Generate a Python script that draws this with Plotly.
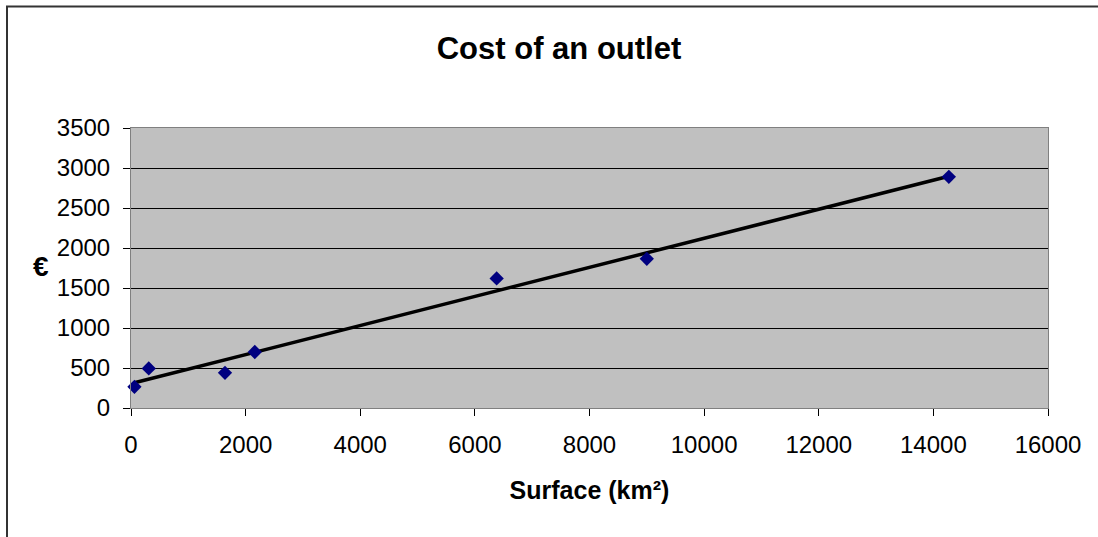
import numpy as np
import plotly.graph_objects as go

surface_km2 = [60, 310, 1640, 2160, 6380, 9000, 14270]
cost_eur = [265, 495, 440, 700, 1620, 1865, 2890]

x_ticks = [0, 2000, 4000, 6000, 8000, 10000, 12000, 14000, 16000]
y_ticks = [0, 500, 1000, 1500, 2000, 2500, 3000, 3500]

title_text = "Cost of an outlet"
x_title = "Surface (km²)"
y_title = "€"

# linear trendline (least squares) over the data range
slope, intercept = np.polyfit(surface_km2, cost_eur, 1)
trend_x = [min(surface_km2), max(surface_km2)]
trend_y = [slope * v + intercept for v in trend_x]

W, H = 1098, 537
L, R, T, B = 131, 50, 128, 129
pw, ph = W - L - R, H - T - B

fig = go.Figure()
fig.add_trace(go.Scatter(
    x=trend_x, y=trend_y, mode="lines",
    line=dict(color="black", width=3.5),
    showlegend=False,
))
fig.add_trace(go.Scatter(
    x=surface_km2, y=cost_eur, mode="markers",
    marker=dict(symbol="diamond", size=11, color="#000080",
                line=dict(width=0)),
    showlegend=False, cliponaxis=False,
))

font_family = "Liberation Sans, Arial, sans-serif"

fig.update_layout(
    width=W, height=H,
    margin=dict(l=L, r=R, t=T, b=B, pad=0),
    paper_bgcolor="white",
    plot_bgcolor="#C0C0C0",
    font=dict(family=font_family, size=24, color="black"),
    title=dict(text="<b>%s</b>" % title_text, x=559 / W, xref="container",
               xanchor="center", y=(H - 48) / H, yanchor="middle",
               font=dict(size=31, family=font_family, color="black")),
    xaxis=dict(
        range=[0, 16000], tickmode="array", tickvals=x_ticks,
        ticktext=[str(v) for v in x_ticks],
        showgrid=False, zeroline=False,
        showline=True, linecolor="#808080", linewidth=1, mirror=True,
        ticks="outside", ticklen=7, tickcolor="black", tickwidth=1,
        ticklabelstandoff=8,
        tickfont=dict(size=24),
        title=dict(text="<b>%s</b>" % x_title, font=dict(size=25), standoff=24),
    ),
    yaxis=dict(
        range=[0, 3500], tickmode="array", tickvals=y_ticks,
        ticktext=[str(v) for v in y_ticks],
        showgrid=True, gridcolor="black", gridwidth=1,
        zeroline=False,
        showline=True, linecolor="#808080", linewidth=1, mirror=True,
        ticks="outside", ticklen=7, tickcolor="black", tickwidth=1,
        ticklabelstandoff=8,
        tickfont=dict(size=24),
    ),
    annotations=[dict(
        text="<b>%s</b>" % y_title, xref="paper", yref="paper",
        x=(41 - L) / pw, y=(408 - 266) / ph, xanchor="center", yanchor="middle",
        showarrow=False, font=dict(size=28, family=font_family, color="black"),
    )],
    shapes=[dict(
        type="rect", xref="paper", yref="paper",
        x0=(7 - L) / pw, x1=(W + 5 - L) / pw,
        y0=(408 - (H + 5)) / ph, y1=(408 - 6.5) / ph,
        line=dict(color="#333333", width=2), layer="below",
    )],
)

fig.write_html("out.html")
